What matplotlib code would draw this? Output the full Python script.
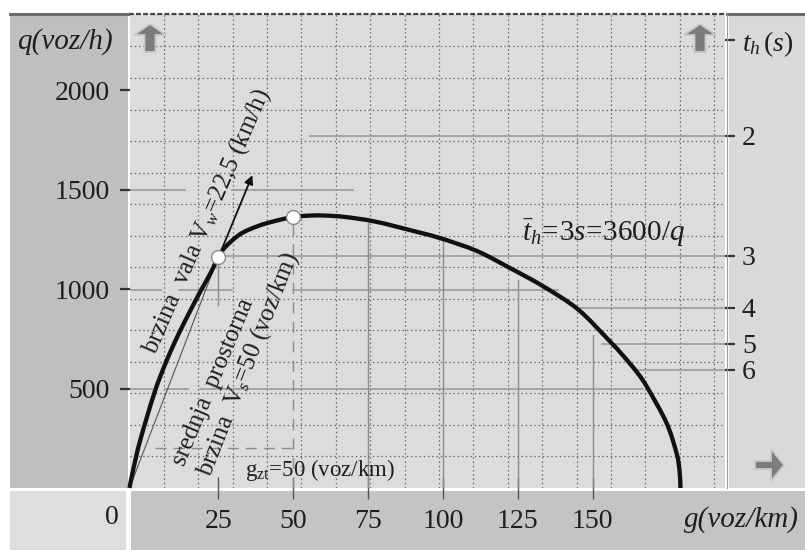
import numpy as np
import matplotlib
matplotlib.use('Agg')
import matplotlib.pyplot as plt
from matplotlib.patches import Rectangle, Polygon, PathPatch
from matplotlib.path import Path
from matplotlib.lines import Line2D

plt.rcParams['font.family'] = ['Liberation Serif', 'DejaVu Serif']
plt.rcParams['mathtext.fontset'] = 'custom'
plt.rcParams['mathtext.rm'] = 'Liberation Serif'
plt.rcParams['mathtext.it'] = 'Liberation Serif:italic'
plt.rcParams['mathtext.bf'] = 'Liberation Serif:bold'

# ---------------- data ----------------
density = [-4.67, -3.47, -1.07, 3.73, 7.67, 11.57, 15.57, 18.9, 22.4, 25.0,
           27.33, 32.33, 38.33, 44.0, 50.0, 55.67, 60.67, 67.33, 77.33, 89.0, 99.0,
           111.33, 122.33, 133.33, 145.0, 155.0, 160.0, 165.0, 168.33, 174.67, 178.0,
           179.0, 179.33]
flow = [0, 90, 241, 482, 638, 769, 889, 985, 1080, 1161,
        1211, 1276, 1317, 1342, 1362, 1369, 1369, 1362, 1339, 1296, 1256,
        1191, 1106, 1015, 899, 749, 668, 578, 503, 327, 176,
        90, 0]

marked_g = [25, 50]
marked_q = [1161, 1362]

x_ticks = [25, 50, 75, 100, 125, 150]
y_ticks = [500, 1000, 1500, 2000]
t_labels = ['2', '3', '4', '5', '6']
t_q_pos = [1769, 1166, 905, 726, 593]

G_MIN, G_MAX = -4.67, 194.2
Q_MAX = 2382

# guide lines: (q level, g from, g to)
h_guides = [(1769, 55.7, G_MAX), (1500, G_MIN, 14), (1500, 29.7, 70),
            (1166, 27.3, G_MAX), (995, G_MIN, 5.7), (995, 11.7, 29.7),
            (995, 50, 138.3), (905, 145, G_MAX), (726, 153, G_MAX),
            (593, 165, G_MAX), (495, G_MIN, 3), (495, 7.3, 15),
            (495, 19, 166.7)]
# (g position, q from, q to)
v_guides = [(25, 920, 1161), (75, 0, 1332), (100, 0, 1262),
            (125, 0, 1045), (150, 0, 770)]

# ---------------- figure ----------------
W, H = 805, 550
fig = plt.figure(figsize=(W / 100, H / 100), dpi=100, facecolor='white')


def fx(x):
    return x / W


def fy(y):
    return 1 - y / H


def rect(x0, y0, x1, y1, color, z=-1):
    fig.add_artist(Rectangle((fx(x0), fy(y1)), (x1 - x0) / W, (y1 - y0) / H,
                             transform=fig.transFigure, facecolor=color,
                             edgecolor='none', zorder=z))


rect(10, 14, 128, 488, '#bfbfbf')        # left panel
rect(729, 14, 805, 488, '#d9d9d9')       # right panel
rect(10, 491, 126, 550, '#dedede')       # bottom-left box
rect(131, 491, 805, 550, '#c4c4c4')      # bottom strip
fig.add_artist(Line2D([fx(10), fx(128)], [fy(14), fy(14)], transform=fig.transFigure,
                      color='#6e6e6e', lw=2.2, zorder=3))
fig.add_artist(Line2D([fx(727), fx(805)], [fy(14), fy(14)], transform=fig.transFigure,
                      color='#6e6e6e', lw=2.2, zorder=3))
fig.add_artist(Line2D([fx(726.6), fx(726.6)], [fy(14), fy(488)], transform=fig.transFigure,
                      color='#9a9a9a', lw=0.8, zorder=3))

ax = fig.add_axes([fx(129.5), fy(488), (725 - 129.5) / W, (488 - 14) / H])
ax.set_facecolor('#dcdcdc')
ax.set_xlim(G_MIN, G_MAX)
ax.set_ylim(0, Q_MAX)
for s in ['left', 'right', 'bottom']:
    ax.spines[s].set_visible(False)
ax.spines['top'].set_linestyle((0, (1.2, 2.0)))
ax.spines['top'].set_color('#444444')
ax.spines['top'].set_linewidth(1.6)

# dotted grid (independent of the tick marks)
gx = G_MIN + 11.483 * np.arange(1, 18)
gy = 158.5 * np.arange(1, 15)
ax.set_xticks(gx, minor=True)
ax.set_yticks(gy, minor=True)
ax.tick_params(which='minor', length=0)
ax.grid(which='minor', linestyle=(0, (1.2, 2.2)), color='#6a6a6a', lw=0.9)
ax.grid(which='major', visible=False)
ax.set_axisbelow(True)

ax.set_xticks(x_ticks)
ax.set_xticklabels([str(v) for v in x_ticks])
ax.set_yticks(y_ticks)
ax.set_yticklabels([str(v) for v in y_ticks])
ax.tick_params(axis='x', which='major', direction='inout', length=16, width=1.0,
               color='#555555', labelsize=20, labelcolor='#1e1e1e', pad=7)
ax.tick_params(axis='y', which='major', direction='out', length=7.2, width=1.6,
               color='#333333', labelsize=20, labelcolor='#1e1e1e', pad=7)

# guide lines
for q, g0, g1 in h_guides:
    ax.plot([g0, g1], [q, q], color='#9a9a9a', lw=1.2, zorder=2)
for g, q0, q1 in v_guides:
    ax.plot([g, g], [q0, q1], color='#8c8c8c', lw=1.0, zorder=2)
ax.plot([marked_g[1], marked_g[1]], [0, marked_q[1]], color='#8c8c8c', lw=1.0,
        linestyle=(0, (8, 6)), zorder=2)
ax.plot([4, 49.7], [201, 201], color='#8c8c8c', lw=1.0, linestyle=(0, (8, 5)), zorder=2)

# mean space speed line from origin
ax.plot([density[0], marked_g[0]], [flow[0], marked_q[0]], color='#555555', lw=0.8, zorder=3)

# flow-density curve, drawn as a smooth path through the read points
sx, sy = 3.0, 0.199
P = np.column_stack([np.array(density) * sx, np.array(flow) * sy])
verts = [P[0]]
codes = [Path.MOVETO]
n = len(P)
for i in range(n - 1):
    p0 = P[i - 1] if i > 0 else P[i]
    p1 = P[i]
    p2 = P[i + 1]
    p3 = P[i + 2] if i + 2 < n else P[i + 1]
    verts += [p1 + (p2 - p0) / 6.0, p2 - (p3 - p1) / 6.0, p2]
    codes += [Path.CURVE4] * 3
verts = np.array(verts) / np.array([sx, sy])
ax.add_patch(PathPatch(Path(verts, codes), facecolor='none', edgecolor='#111111',
                       lw=3.1, capstyle='butt', joinstyle='round', clip_on=False, zorder=4))

# wave speed arrow
ax.annotate('', xy=(36.7, 1585), xytext=(25.4, 1172),
            arrowprops=dict(arrowstyle='-|>', color='#111111', lw=1.3,
                            mutation_scale=13), zorder=5)

ax.plot(marked_g, marked_q, 'o', markersize=10, markerfacecolor='white',
        markeredgecolor='#8a8a8a', markeredgewidth=1.0, zorder=6)

# annotations
tc = '#1e1e1e'
ax.text(21.0, 1342, r'brzina  vala V$_w$=22,5 (km/h)', rotation=66.5,
        rotation_mode='anchor', ha='center', va='center', fontsize=18, color=tc, zorder=7)
ax.text(23.2, 530, 'srednja  prostorna', rotation=67.3,
        rotation_mode='anchor', ha='center', va='center', fontsize=18, color=tc, zorder=7)
ax.text(35.0, 623, r'brzina  V$_s$=50 (voz/km)', rotation=68.5,
        rotation_mode='anchor', ha='center', va='center', fontsize=18, color=tc, zorder=7)
ax.text(34.0, 60, r'g$_{\rm zt}$=50 (voz/km)', ha='left', va='baseline',
        fontsize=16.5, color=tc, zorder=7)
ax.text(126.3, 1281, r'$\bar{t}_h\!=\!3s\!=\!\mathit{3600}/q$', ha='left', va='center',
        fontsize=21, color=tc, zorder=7)

# right axis (headway)
ax2 = ax.twinx()
ax2.set_ylim(0, Q_MAX)
for s in ['left', 'right', 'bottom', 'top']:
    ax2.spines[s].set_visible(False)
ax2.set_yticks(t_q_pos + [2251])
ax2.set_yticklabels(t_labels + [r'$t_h\,(s)$'])
ax2.tick_params(axis='y', direction='out', length=7.2, width=1.6, color='#333333',
                labelsize=20, labelcolor='#1e1e1e', pad=5)

# axis captions
fig.text(fx(65), fy(42), 'q(voz/h)', ha='center', va='center', fontsize=21,
         style='italic', color=tc)
fig.text(fx(741), fy(520), 'g(voz/km)', ha='center', va='center', fontsize=21,
         style='italic', color=tc)
fig.text(fx(112), fy(517), '0', ha='center', va='center', fontsize=20, color=tc)


# block arrows
def poly(pts):
    fig.add_artist(Polygon([(fx(x), fy(y)) for x, y in pts], closed=True,
                           transform=fig.transFigure, facecolor='#7c7c7c',
                           edgecolor='#c8c8c8', lw=1.3, zorder=8))


for cx in (150, 700):
    poly([(cx - 5.5, 52), (cx - 5.5, 35), (cx - 16, 35), (cx, 24),
          (cx + 16, 35), (cx + 5.5, 35), (cx + 5.5, 52)])
poly([(755, 461), (771, 461), (771, 449), (784, 465), (771, 481), (771, 469), (755, 469)])

fig.savefig('out.png', dpi=100, facecolor='white')
